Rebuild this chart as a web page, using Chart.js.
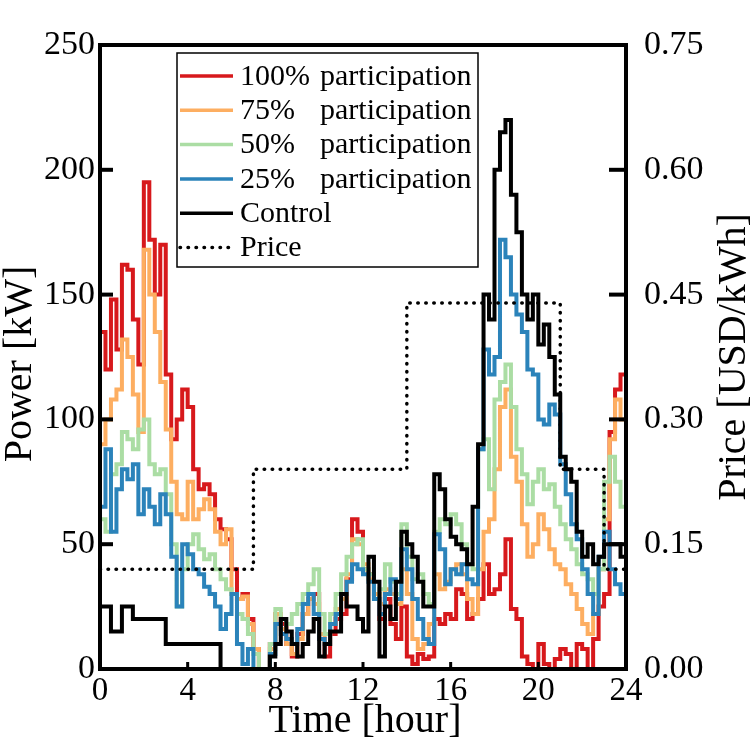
<!DOCTYPE html>
<html>
<head>
<meta charset="utf-8">
<script src="https://cdn.jsdelivr.net/npm/chart.js@4.4.0/dist/chart.umd.min.js"></script>
<style>
  html, body { margin: 0; padding: 0; background: #fff; }
  #wrap { width: 750px; height: 750px; }
</style>
</head>
<body>
<div id="wrap"><canvas id="chart" width="750" height="750"></canvas></div>
<script>
  // Power [kW], one value every 15 minutes from 0:00 to 24:00
  const step = 0.25;
  const red100 = [
    135,120,148,128,162,160,140,122,
    195,172,150,170,118,92,100,112,
    105,80,72,74,70,60,56,52,
    40,28,30,20,8,0,0,10,
    22,18,10,5,14,22,28,30,
    12,5,14,20,22,36,60,55,
    40,38,30,20,28,18,12,25,
    5,2,6,4,5,20,18,22,
    20,32,30,20,22,28,42,30,
    32,38,52,24,20,5,2,0,
    10,2,0,4,8,6,0,10,
    8,0,12,25,30,95,112,118,
    135
  ];
  const orange75 = [
    90,100,108,112,132,125,110,95,
    168,150,135,115,96,75,62,60,
    75,60,64,68,64,55,50,56,
    30,28,29,18,8,0,0,8,
    22,16,10,6,12,22,28,26,
    14,10,18,24,28,38,52,50,
    42,36,30,26,32,30,26,40,
    30,12,8,10,18,38,32,35,
    40,42,38,28,22,40,55,60,
    80,105,112,85,75,58,45,50,
    62,56,48,42,40,34,30,24,
    18,14,22,40,60,92,108,100,
    115
  ];
  const green50 = [
    60,55,78,82,95,92,88,96,
    100,82,78,80,70,50,25,40,
    50,54,48,44,46,40,36,32,
    30,22,20,14,6,0,0,10,
    24,20,18,22,26,30,34,40,
    22,14,22,30,38,45,50,52,
    40,38,28,32,42,35,30,58,
    45,36,38,30,26,55,60,58,
    62,58,50,42,40,88,92,72,
    108,115,122,105,88,78,66,75,
    80,72,74,65,58,52,48,42,
    38,36,30,40,75,85,75,65,
    60
  ];
  const blue25 = [
    65,88,55,72,80,76,82,62,
    72,65,58,70,62,45,25,50,
    46,40,38,33,30,25,16,22,
    30,10,2,8,0,0,0,6,
    18,14,12,10,16,26,30,22,
    12,10,18,22,30,35,42,40,
    38,35,28,22,30,36,28,48,
    40,28,20,12,10,54,48,34,
    40,38,42,36,34,88,128,118,
    125,172,165,150,142,135,120,118,
    100,98,106,102,82,70,58,52,
    40,30,22,45,55,40,34,30,
    45
  ];
  const control = [
    25,25,15,15,25,25,20,20,
    20,20,20,20,10,10,10,10,
    10,10,10,10,10,10,0,0,
    0,0,0,0,0,0,0,5,
    10,20,15,10,5,10,15,20,
    5,10,15,15,30,25,25,20,
    15,45,35,5,25,20,35,55,
    50,45,35,25,25,78,72,60,
    53,50,48,42,65,90,150,140,
    200,215,220,190,175,150,140,150,
    130,138,125,110,85,80,75,55,
    45,50,42,45,50,50,50,45,
    35
  ];
  const hours = red100.map((_, i) => i * step);

  // Price [USD/kWh], held from each hour until the next
  const priceHours = [0, 7, 14, 21, 23, 24];
  const priceValues = [0.12, 0.24, 0.44, 0.24, 0.12, 0.12];

  const hourTicks = [0, 4, 8, 12, 16, 20, 24];
  const powerTicks = [0, 50, 100, 150, 200, 250];
  const priceTicks = [0, 0.15, 0.30, 0.45, 0.60, 0.75];

  const legendItems = [
    { num: '100%', text: 'participation', color: '#d7191c', dash: [] },
    { num: '75%', text: 'participation', color: '#fdae61', dash: [] },
    { num: '50%', text: 'participation', color: '#abdda4', dash: [] },
    { num: '25%', text: 'participation', color: '#2b83ba', dash: [] },
    { num: 'Control', text: '', color: '#000000', dash: [] },
    { num: 'Price', text: '', color: '#000000', dash: [0.5, 7.5] }
  ];

  const SERIF = '"Liberation Serif", "Times New Roman", serif';
  Chart.defaults.font.family = SERIF;
  Chart.defaults.color = '#000';

  const toXY = vals => vals.map((v, i) => ({ x: hours[i], y: v }));

  const lineSet = (label, vals, color, order) => ({
    label, data: toXY(vals), borderColor: color, borderWidth: 4,
    pointRadius: 0, stepped: 'before', yAxisID: 'y', order, borderJoinStyle: 'miter'
  });

  // frame, inward ticks, axis titles and legend box
  const decor = {
    id: 'decor',
    afterDraw(chart) {
      const { ctx, chartArea: a, scales } = chart;
      ctx.save();
      ctx.strokeStyle = '#000';
      ctx.lineCap = 'butt';

      ctx.lineWidth = 4;
      powerTicks.forEach(v => {
        const y = scales.y.getPixelForValue(v);
        ctx.beginPath(); ctx.moveTo(a.left, y); ctx.lineTo(a.left + 13, y); ctx.stroke();
      });
      priceTicks.forEach(v => {
        const y = scales.y2.getPixelForValue(v);
        ctx.beginPath(); ctx.moveTo(a.right, y); ctx.lineTo(a.right - 17, y); ctx.stroke();
      });
      ctx.lineWidth = 3;
      hourTicks.forEach(v => {
        const x = scales.x.getPixelForValue(v);
        ctx.beginPath(); ctx.moveTo(x, a.bottom); ctx.lineTo(x, a.bottom - 7); ctx.stroke();
      });

      ctx.lineWidth = 4;
      ctx.strokeRect(a.left, a.top, a.right - a.left, a.bottom - a.top);

      // axis titles
      ctx.fillStyle = '#000';
      ctx.font = '40px ' + SERIF;
      ctx.textAlign = 'center';
      ctx.textBaseline = 'middle';
      ctx.fillText('Time [hour]', (a.left + a.right) / 2 + 2, 721);
      ctx.save();
      ctx.translate(20, 364); ctx.rotate(-Math.PI / 2);
      ctx.fillText('Power [kW]', 0, 0);
      ctx.restore();
      ctx.save();
      ctx.translate(734, 357); ctx.rotate(-Math.PI / 2);
      ctx.fillText('Price [USD/kWh]', 0, 0);
      ctx.restore();

      // legend
      const bx = 177, by = 53, bw = 301, bh = 214;
      ctx.fillStyle = '#fff';
      ctx.fillRect(bx, by, bw, bh);
      ctx.lineWidth = 1.5;
      ctx.strokeRect(bx, by, bw, bh);
      ctx.font = '30px ' + SERIF;
      ctx.textAlign = 'left';
      legendItems.forEach((it, i) => {
        const y = 76 + i * 34.3;
        ctx.strokeStyle = it.color;
        ctx.lineWidth = 3.5;
        ctx.lineCap = it.dash.length ? 'round' : 'butt';
        ctx.setLineDash(it.dash);
        ctx.beginPath(); ctx.moveTo(180, y); ctx.lineTo(233, y); ctx.stroke();
        ctx.setLineDash([]);
        ctx.fillStyle = '#000';
        ctx.fillText(it.num, 240, y + 1);
        if (it.text) ctx.fillText(it.text, 320, y + 1);
      });
      ctx.restore();
    }
  };

  new Chart(document.getElementById('chart'), {
    type: 'line',
    data: {
      datasets: [
        {
          label: 'Price',
          data: priceHours.map((h, i) => ({ x: h, y: priceValues[i] })),
          borderColor: '#000', borderWidth: 3.5, borderDash: [0.5, 7.5],
          borderCapStyle: 'round', stepped: 'before', pointRadius: 0,
          yAxisID: 'y2', order: 0
        },
        lineSet('Control', control, '#000000', 1),
        lineSet('25% participation', blue25, '#2b83ba', 2),
        lineSet('50% participation', green50, '#abdda4', 3),
        lineSet('75% participation', orange75, '#fdae61', 4),
        lineSet('100% participation', red100, '#d7191c', 5)
      ]
    },
    options: {
      responsive: false,
      animation: false,
      layout: { padding: { top: 45, left: 0, right: 0, bottom: 0 } },
      plugins: { legend: { display: false }, tooltip: { enabled: false } },
      scales: {
        x: {
          type: 'linear', min: 0, max: 24,
          grid: { display: false, drawTicks: false }, border: { display: false },
          afterBuildTicks: s => { s.ticks = hourTicks.map(v => ({ value: v })); },
          afterFit: s => { s.height = 81; },
          ticks: { font: { size: 33 }, padding: 3, maxRotation: 0 }
        },
        y: {
          position: 'left', min: 0, max: 250,
          grid: { display: false, drawTicks: false }, border: { display: false },
          afterBuildTicks: s => { s.ticks = powerTicks.map(v => ({ value: v })); },
          afterFit: s => { s.width = 100; },
          ticks: { font: { size: 34 }, padding: 5 }
        },
        y2: {
          position: 'right', min: 0, max: 0.75,
          grid: { display: false, drawTicks: false }, border: { display: false },
          afterBuildTicks: s => { s.ticks = priceTicks.map(v => ({ value: v })); },
          afterFit: s => { s.width = 124; },
          ticks: { font: { size: 34 }, padding: 18, callback: v => v.toFixed(2) }
        }
      }
    },
    plugins: [decor]
  });
</script>
</body>
</html>
